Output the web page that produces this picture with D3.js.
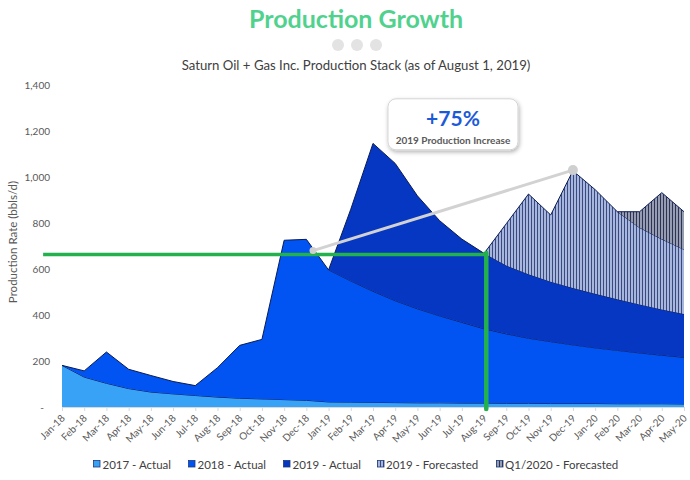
<!DOCTYPE html>
<html><head><meta charset="utf-8">
<script src="https://cdn.jsdelivr.net/npm/d3@7"></script>
<style>
html,body{margin:0;padding:0;background:#fff;}
svg{display:block;font-family:Lato,"Open Sans",sans-serif;}
</style></head>
<body>
<svg id="chart" width="690" height="480"></svg>
<script>
// ---------- DATA ----------
const months = ["Jan-18","Feb-18","Mar-18","Apr-18","May-18","Jun-18","Jul-18","Aug-18","Sep-18","Oct-18","Nov-18","Dec-18",
  "Jan-19","Feb-19","Mar-19","Apr-19","May-19","Jun-19","Jul-19","Aug-19","Sep-19","Oct-19","Nov-19","Dec-19",
  "Jan-20","Feb-20","Mar-20","Apr-20","May-20"];
const seriesNames = ["2017 - Actual","2018 - Actual","2019 - Actual","2019 - Forecasted","Q1/2020 - Forecasted"];
const actual2017 = [181,130,103,80,65,57,50,43,38,35,32,29,22,21,20,19,18,18,17,17,16,16,15,15,15,14,14,14,13];
const actual2018 = [0,27,136,84,72,54,43,128,230,259,693,700,574,527,483,443,409,378,351,323,302,283,269,255,242,232,221,211,203];
const actual2019 = [null,null,null,null,null,null,null,null,null,null,null,null,
  0,312,643,597,491,414,362,328,297,278,261,247,235,222,211,199,188];
const forecast2019 = [null,null,null,null,null,null,null,null,null,null,null,null,
  null,null,null,null,null,null,null,0,182,349,290,510,453,381,334,306,281];
const forecastQ12020 = [null,null,null,null,null,null,null,null,null,null,null,null,
  null,null,null,null,null,null,null,null,null,null,null,null,null,0,69,202,164];
const yTicks = [0,200,400,600,800,1000,1200,1400];
const titleText = "Production Growth";
const subtitleText = "Saturn Oil + Gas Inc. Production Stack (as of August 1, 2019)";
const yAxisTitle = "Production Rate (bbls/d)";
const calloutValue = "+75%";
const calloutLabel = "2019 Production Increase";
// annotation anchors (data units: month index, bbls/d)
const baseline2019 = {start: -0.85, end: 19.1, value: 663};
const growthLine = [{i: 11.3, v: 680}, {i: 23, v: 1030}];
const calloutAnchor = {i: 17.6, v: 1340};

// ---------- SETUP ----------
const svg = d3.select("#chart");
const x = d3.scaleLinear().domain([0, months.length - 1]).range([62, 684]);
const y = d3.scaleLinear().domain([0, 1400]).range([407, 85]);

const fills = ["#38a2f6", "#0153f2", "#0637c2", "url(#pat19)", "url(#patQ1)"];
const defs = svg.append("defs");
function stripe(id, bg, fg) {
  const p = defs.append("pattern").attr("id", id).attr("patternUnits", "userSpaceOnUse")
    .attr("width", 3).attr("height", 10);
  p.append("rect").attr("width", 3).attr("height", 10).attr("fill", bg);
  p.append("rect").attr("width", 1).attr("height", 10).attr("fill", fg);
}
stripe("pat19", "#a6b6dc", "#3a4a80");
stripe("patQ1", "#969db2", "#2c3452");
const shadow = defs.append("filter").attr("id", "shadow").attr("x", "-20%").attr("y", "-20%").attr("width", "150%").attr("height", "160%");
shadow.append("feDropShadow").attr("dx", 1).attr("dy", 2).attr("stdDeviation", 2).attr("flood-color", "#000").attr("flood-opacity", 0.3);

// ---------- TITLES ----------
svg.append("text").attr("x", 356).attr("y", 28).attr("text-anchor", "middle")
  .attr("font-size", 25).attr("font-weight", 700).attr("fill", "#50d28e").text(titleText);
svg.selectAll("circle.dot").data([0,1,2]).join("circle").attr("class","dot")
  .attr("cx", d => 338 + d * 19).attr("cy", 45).attr("r", 6).attr("fill", "#e3e3e3");
svg.append("text").attr("x", 356).attr("y", 70).attr("text-anchor", "middle")
  .attr("font-size", 13.2).attr("fill", "#404040").text(subtitleText);

// ---------- STACK ----------
const raw = [actual2017, actual2018, actual2019, forecast2019, forecastQ12020];
const table = months.map((m, i) => {
  const o = {i};
  raw.forEach((s, k) => o["s" + k] = s[i] == null ? 0 : s[i]);
  return o;
});
const keys = raw.map((s, k) => "s" + k);
const stacked = d3.stack().keys(keys)(table);

const gAreas = svg.append("g");
stacked.forEach((layer, k) => {
  const defined = d => raw[k][d.data.i] != null;
  const area = d3.area().defined(defined).x(d => x(d.data.i)).y0(d => y(d[0])).y1(d => y(d[1]));
  const line = d3.line().defined(defined).x(d => x(d.data.i)).y(d => y(d[1]));
  gAreas.append("path").attr("d", area(layer)).attr("fill", fills[k]);
  gAreas.append("path").attr("d", line(layer)).attr("fill", "none")
    .attr("stroke", "#0b1c55").attr("stroke-width", 1);
});

// ---------- AXES ----------
const xAxis = svg.append("g").attr("transform", `translate(0,${y(0)})`)
  .call(d3.axisBottom(x).tickValues(d3.range(months.length)).tickFormat(i => months[i]).tickSize(4).tickSizeOuter(0));
xAxis.select(".domain").attr("stroke", "#d9d9d9").attr("stroke-width", 1);
xAxis.selectAll(".tick line").attr("stroke", "#d9d9d9");
xAxis.selectAll(".tick text").attr("font-family", "Lato").attr("font-size", 10).attr("fill", "#595959")
  .attr("text-anchor", "end").attr("x", 0).attr("y", 0).attr("dx", 0).attr("dy", 0)
  .attr("transform", "translate(3,12) rotate(-45)");

const yAxis = svg.append("g").attr("transform", "translate(50,0)")
  .call(d3.axisLeft(y).tickValues(yTicks).tickSize(0).tickPadding(0)
    .tickFormat(d => d === 0 ? "-" : d3.format(",")(d)));
yAxis.select(".domain").remove();
yAxis.selectAll(".tick text").attr("font-family", "Lato").attr("font-size", 10).attr("fill", "#595959")
  .attr("dx", d => d === 0 ? -6 : 0);

svg.append("text").attr("transform", `translate(17,${(y(0)+y(1400))/2 - 4}) rotate(-90)`)
  .attr("text-anchor", "middle").attr("font-size", 11.5).attr("fill", "#595959").text(yAxisTitle);

// ---------- ANNOTATIONS ----------
svg.append("line").attr("x1", x(baseline2019.start)).attr("x2", x(baseline2019.end))
  .attr("y1", y(baseline2019.value)).attr("y2", y(baseline2019.value))
  .attr("stroke", "#22b14c").attr("stroke-width", 3.5);
svg.append("line").attr("x1", x(baseline2019.end)).attr("x2", x(baseline2019.end))
  .attr("y1", y(baseline2019.value) - 1.5).attr("y2", y(0) + 2)
  .attr("stroke", "#22b14c").attr("stroke-width", 4.5).attr("stroke-linecap", "round");

svg.append("line").attr("x1", x(growthLine[0].i)).attr("y1", y(growthLine[0].v))
  .attr("x2", x(growthLine[1].i)).attr("y2", y(growthLine[1].v))
  .attr("stroke", "#d2d2d2").attr("stroke-width", 3);
svg.selectAll("circle.gd").data(growthLine).join("circle").attr("class", "gd")
  .attr("cx", d => x(d.i)).attr("cy", d => y(d.v)).attr("r", d => d.i > 20 ? 5 : 3.5).attr("fill", "#cfcfcf");

const cx = x(calloutAnchor.i), cy = y(calloutAnchor.v);
svg.append("rect").attr("x", cx - 65).attr("y", cy).attr("width", 130).attr("height", 51)
  .attr("rx", 8).attr("fill", "#fff").attr("stroke", "#d4d4d4").attr("filter", "url(#shadow)");
svg.append("text").attr("x", cx).attr("y", cy + 27).attr("text-anchor", "middle")
  .attr("font-size", 21).attr("font-weight", 700).attr("fill", "#1c5ad8").text(calloutValue);
svg.append("text").attr("x", cx).attr("y", cy + 45).attr("text-anchor", "middle")
  .attr("font-size", 10).attr("font-weight", 700).attr("fill", "#595959").text(calloutLabel);

// ---------- LEGEND ----------
const legendX = [93, 188, 283, 377, 496];
const lg = svg.append("g");
seriesNames.forEach((name, k) => {
  const g = lg.append("g").attr("transform", `translate(${legendX[k]},460)`);
  g.append("rect").attr("x", 0.5).attr("y", 0.5).attr("width", 6.5).attr("height", 6.5)
    .attr("fill", fills[k]).attr("stroke", "#1f3a7a").attr("stroke-width", 0.8);
  g.append("text").attr("x", k >= 3 ? 9 : 9.5).attr("y", 8.5).attr("font-size", 11.5)
    .attr("fill", "#404040").text(name);
});
</script>
</body></html>
